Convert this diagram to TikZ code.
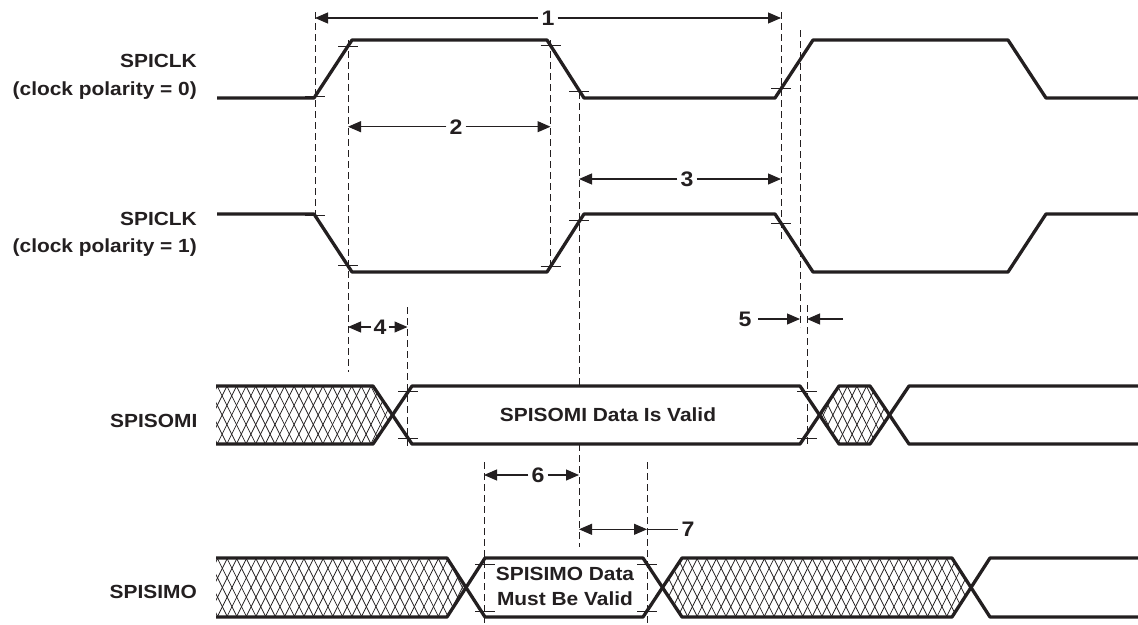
\documentclass[tikz,border=0pt]{standalone}
\usepackage{fontspec}
\setmainfont{Liberation Sans}[FakeStretch=1.1]
\usetikzlibrary{arrows.meta}
\definecolor{ink}{RGB}{35,31,32}
\begin{document}
\begin{tikzpicture}[x=1pt,y=-1pt,
  sig/.style={draw=ink,line width=3.3pt,line join=round},
  dsh/.style={draw=ink,line width=0.8pt,dash pattern=on 7pt off 4pt},
  tck/.style={draw=ink,line width=0.8pt},
  hatch/.style={draw=ink,line width=0.75pt},
  dim/.style={draw=ink,line width=1.1pt,-{Triangle[length=13pt,width=11pt]}},
  dimb/.style={draw=ink,line width=1.1pt,{Triangle[length=13pt,width=11pt]}-{Triangle[length=13pt,width=11pt]}},
  plain/.style={draw=ink,line width=1.1pt},
  num/.style={font=\fontsize{21}{24}\selectfont\bfseries,text=ink,fill=white,inner sep=3pt},
  lbl/.style={font=\fontsize{19}{22}\selectfont\bfseries,text=ink,inner sep=0pt},
]
\fill[white] (0,0) rectangle (1138,624);
\useasboundingbox (0,0) rectangle (1138,624);

% ---------- dashed reference lines ----------
\draw[dsh] (315,12) -- (315,217);
\draw[dsh] (348,40) -- (348,372);
\draw[dsh] (550.5,40) -- (550.5,265);
\draw[dsh] (579,92) -- (579,386);
\draw[dsh] (579,444) -- (579,547);
\draw[dsh] (781,12) -- (781,240);
\draw[dsh] (800,30) -- (800,327);
\draw[dsh] (807,305) -- (807,447);
\draw[dsh] (407.5,307) -- (407.5,447);
\draw[dsh] (484,462) -- (484,624);
\draw[dsh] (647,462) -- (647,624);

% ---------- hatching ----------
\begin{scope}
\clip (216,386) -- (373,386) -- (392.5,415) -- (373,444) -- (216,444) -- cycle;
\foreach \x in {150,159.6,...,420} {
  \draw[hatch] (\x,386) -- ++(29,58);
  \draw[hatch] (\x,444) -- ++(29,-58);
}
\end{scope}
\begin{scope}
\clip (819.5,415) -- (839,386) -- (870,386) -- (889.5,415) -- (870,444) -- (839,444) -- cycle;
\foreach \x in {780,789.6,...,900} {
  \draw[hatch] (\x,386) -- ++(29,58);
  \draw[hatch] (\x,444) -- ++(29,-58);
}
\end{scope}
\begin{scope}
\clip (216,558) -- (447,558) -- (466,587.5) -- (447,617) -- (216,617) -- cycle;
\foreach \x in {150,159.6,...,480} {
  \draw[hatch] (\x,558) -- ++(29.5,59);
  \draw[hatch] (\x,617) -- ++(29.5,-59);
}
\end{scope}
\begin{scope}
\clip (662.5,587.5) -- (682,558) -- (952,558) -- (971,587.5) -- (952,617) -- (682,617) -- cycle;
\foreach \x in {620,629.6,...,990} {
  \draw[hatch] (\x,558) -- ++(29.5,59);
  \draw[hatch] (\x,617) -- ++(29.5,-59);
}
\end{scope}

% ---------- signals ----------
\draw[sig] (217,98) -- (314,98) -- (352,40) -- (547,40) -- (584,98) -- (775,98) -- (813,40) -- (1008,40) -- (1046,98) -- (1138,98);
\draw[sig] (217,214) -- (314,214) -- (352,272) -- (547,272) -- (584,214) -- (775,214) -- (813,272) -- (1008,272) -- (1046,214) -- (1138,214);
\draw[sig] (216,386) -- (373,386) -- (412,444) -- (800,444) -- (839,386) -- (870,386) -- (909,444) -- (1138,444);
\draw[sig] (216,444) -- (373,444) -- (412,386) -- (800,386) -- (839,444) -- (870,444) -- (909,386) -- (1138,386);
\draw[sig] (216,558) -- (447,558) -- (485,617) -- (643,617) -- (682,558) -- (952,558) -- (990,617) -- (1138,617);
\draw[sig] (216,617) -- (447,617) -- (485,558) -- (643,558) -- (682,617) -- (952,617) -- (990,558) -- (1138,558);

% ---------- ticks ----------
\foreach \tx/\ty in {315/96.5, 348/46, 550.5/45.6, 579/91.6, 781/88.8,
                     315/215.5, 348/265.6, 550.5/266, 579/220.4, 781/223,
                     408/391, 408/438, 807/391, 807/438,
                     485/564, 485/611, 647/564, 647/611}
  \draw[tck] (\tx-10,\ty) -- (\tx+10,\ty);

% ---------- signal names ----------
\node[lbl,anchor=base east] (c0a) at (197,67.3) {SPICLK};
\node[lbl,anchor=base east] (c0b) at (197,95) {(clock polarity = 0)};
\node[lbl,anchor=base east] (c1a) at (197,225) {SPICLK};
\node[lbl,anchor=base east] (c1b) at (197,252) {(clock polarity = 1)};
\node[lbl,anchor=base east] (somi) at (197.5,427.3) {SPISOMI};
\node[lbl,anchor=base east] (simo) at (197,598.3) {SPISIMO};
\node[lbl,anchor=base] (somitxt) at (608,421) {SPISOMI Data Is Valid};
\node[lbl,anchor=base] (simot1) at (565,580.7) {SPISIMO Data};
\node[lbl,anchor=base] (simot2) at (565,605) {Must Be Valid};

% ---------- dimension arrows ----------
\coordinate (a1l) at (315,18);   \coordinate (a1r) at (781,18);
\node[num] (n1) at (548,18) {1};
\draw[dim] (n1) -- (a1l); \draw[dim] (n1) -- (a1r);

\coordinate (a2l) at (348,126.7); \coordinate (a2r) at (550.5,126.7);
\node[num] (n2) at (456,126.7) {2};
\draw[dim] (n2) -- (a2l); \draw[dim] (n2) -- (a2r);

\coordinate (a3l) at (579,179); \coordinate (a3r) at (781,179);
\node[num] (n3) at (687,179) {3};
\draw[dim] (n3) -- (a3l); \draw[dim] (n3) -- (a3r);

\coordinate (a4l) at (348,327); \coordinate (a4r) at (407.5,327);
\node[num,inner sep=2pt] (n4) at (380,327) {4};
\draw[dim] (n4) -- (a4l); \draw[dim] (n4) -- (a4r);

\node[num] (n5) at (745,319) {5};
\coordinate (a5s) at (758,319); \coordinate (a5a) at (800,319);
\coordinate (a5e) at (843,319); \coordinate (a5b) at (807,319);
\draw[dim] (a5s) -- (a5a); \draw[dim] (a5e) -- (a5b);

\coordinate (a6l) at (484,475); \coordinate (a6r) at (579,475);
\node[num] (n6) at (538,475) {6};
\draw[dim] (n6) -- (a6l); \draw[dim] (n6) -- (a6r);

\coordinate (a7l) at (579,529.3); \coordinate (a7r) at (647,529.3);
\node[num] (n7) at (688,529.3) {7};
\draw[dimb] (a7l) -- (a7r);
\draw[plain] (a7r) -- (n7);
\end{tikzpicture}
\end{document}
